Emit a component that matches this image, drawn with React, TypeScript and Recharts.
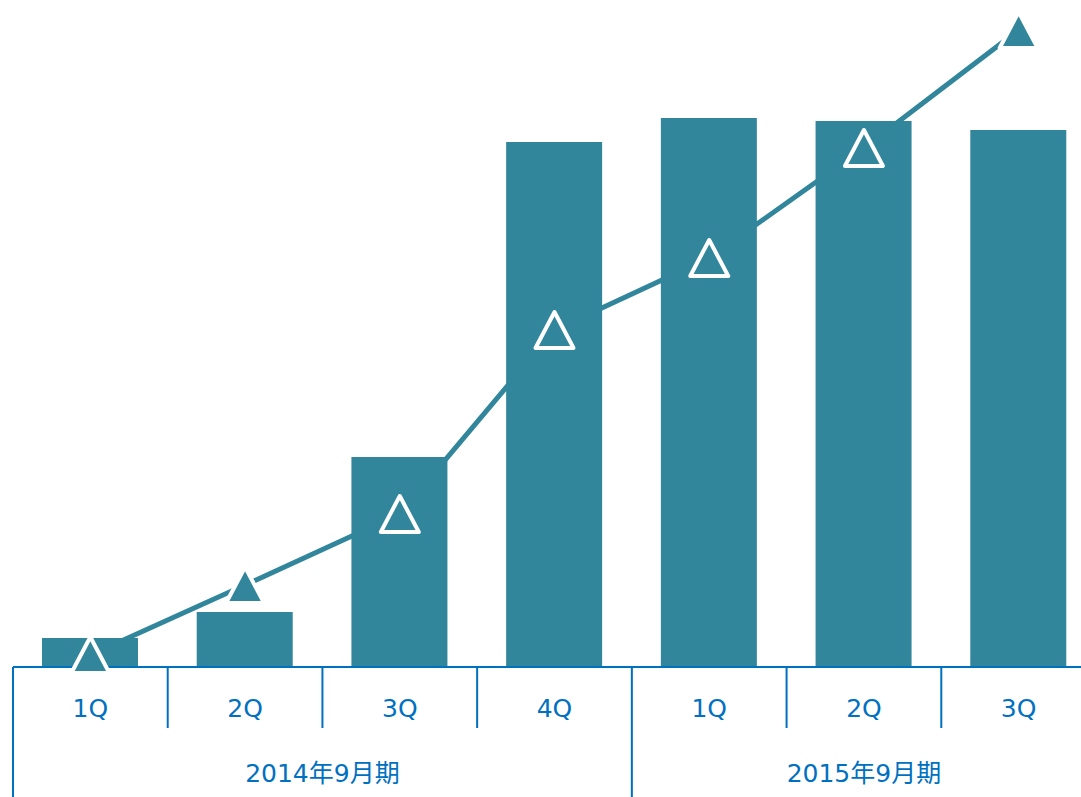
import React from "react"
import { ComposedChart, Bar, Line, XAxis, YAxis } from "recharts"

// ─── Colores ──────────────────────────────────────────────────────────────────
const TEAL = "#31869B"
const AXIS_BLUE = "#0070C0"
const FONT = "'DejaVu Sans', 'Noto Sans CJK JP', sans-serif"

// ─── Datos ───────────────────────────────────────────────────────────────────
const quarters = ["1Q", "2Q", "3Q", "4Q", "1Q", "2Q", "3Q"]
const periods = ["2014年9月期", "2014年9月期", "2014年9月期", "2014年9月期", "2015年9月期", "2015年9月期", "2015年9月期"]
const barValues = [29, 55, 210, 525, 549, 546, 537]
const lineValues = [12, 82, 153, 337, 409, 519, 637]

const data = quarters.map((q, i) => ({
  key: `${periods[i]}-${q}`,
  q,
  period: periods[i],
  bar: barValues[i],
  line: lineValues[i],
}))

// ─── Layout ───────────────────────────────────────────────────────────────────
const CHART_W = 1100
const CHART_H = 797
const LEFT = 13
const PLOT_W = 1083
const BAND = PLOT_W / quarters.length
const AXIS_H = 130

// ─── Marcador triángulo ──────────────────────────────────────────────────────
function TriangleDot({ cx, cy }: any) {
  if (cx == null || cy == null) return null
  const hw = 19, h = 36
  const d = `M${cx},${cy - h / 2} L${cx + hw},${cy + h / 2} L${cx - hw},${cy + h / 2} Z`
  return <path d={d} fill={TEAL} stroke="#fff" strokeWidth={4} strokeLinejoin="round" />
}

// ─── Tick de dos niveles ─────────────────────────────────────────────────────
function TwoLevelTick({ x, y, index }: any) {
  const i = index as number
  const isGroupStart = i === 0 || periods[i] !== periods[i - 1]
  const left = x - BAND / 2
  let groupLabel = null
  if (isGroupStart) {
    let n = 0
    while (i + n < periods.length && periods[i + n] === periods[i]) n++
    const gx = left + (n * BAND) / 2
    groupLabel = (
      <text x={gx} y={y + 115} textAnchor="middle" fontSize={25} fill={AXIS_BLUE} fontFamily={FONT}>
        {periods[i]}
      </text>
    )
  }
  return (
    <g>
      <line x1={left} y1={y} x2={left} y2={y + (isGroupStart ? AXIS_H : 61)} stroke={AXIS_BLUE} strokeWidth={2} />
      <text x={x} y={y + 50} textAnchor="middle" fontSize={25} fill={AXIS_BLUE} fontFamily={FONT}>
        {quarters[i]}
      </text>
      {groupLabel}
    </g>
  )
}

export default function App() {
  return (
    <div style={{ position: "absolute", left: 0, top: 0, width: 1081, height: 797, overflow: "hidden", background: "#fff" }}>
      <ComposedChart
        width={CHART_W}
        height={CHART_H}
        data={data}
        margin={{ top: 7, right: CHART_W - LEFT - PLOT_W, bottom: 0, left: LEFT }}
        barCategoryGap={(BAND - 96) / 2}
      >
        <XAxis
          dataKey="key"
          interval={0}
          height={AXIS_H}
          tickSize={0}
          tickMargin={0}
          tickLine={false}
          axisLine={{ stroke: AXIS_BLUE, strokeWidth: 2 }}
          tick={<TwoLevelTick />}
        />
        <YAxis hide domain={[0, 660]} />
        <Bar dataKey="bar" fill={TEAL} barSize={96} isAnimationActive={false} />
        <Line
          dataKey="line"
          stroke={TEAL}
          strokeWidth={5}
          dot={<TriangleDot />}
          activeDot={false}
          isAnimationActive={false}
        />
      </ComposedChart>
    </div>
  )
}
